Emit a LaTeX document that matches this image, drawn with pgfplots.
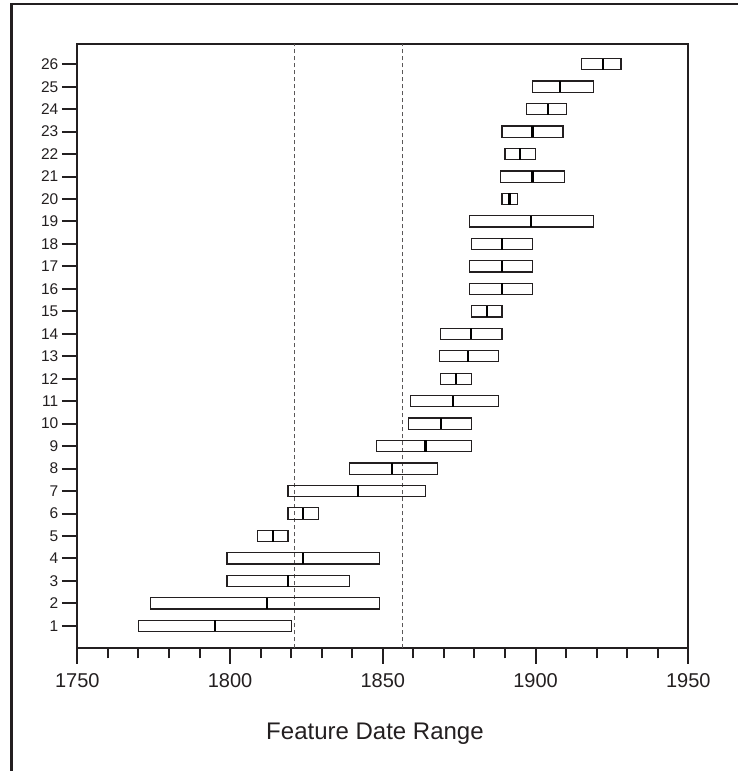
\documentclass[border=0pt]{standalone}
\usepackage{fontspec}
\setmainfont{Liberation Sans}
\usepackage{pgfplots}
\pgfplotsset{compat=1.18}
\usepgfplotslibrary{statistics}
\definecolor{ink}{RGB}{35,31,32}
\pgfplotsset{
  mybox/.style={draw=ink, line width=1.2pt, fill=none,
    boxplot/box extend=0.5, boxplot/whisker extend=0,
    boxplot/every median/.style={line width=2.2pt, draw=black},
    boxplot/every whisker/.style={draw=none}},
}
\newcommand{\rng}[4]{\addplot[mybox, boxplot prepared={draw position=#1, lower whisker=#2, lower quartile=#2, median=#3, upper quartile=#4, upper whisker=#4}] coordinates {};}
\begin{document}
\begin{tikzpicture}[x=1pt,y=1pt]
\useasboundingbox (0,0) rectangle (738,771);
\draw[line width=2.7pt, ink] (11.4,-2) -- (11.4,767) -- (742,767);
\begin{axis}[
  at={(77.3pt,122.7pt)}, anchor=south west, scale only axis,
  width=611pt, height=604.3pt,
  xmin=1750, xmax=1950, ymin=0, ymax=26.9,
  xtick={1750,1800,1850,1900,1950}, minor x tick num=4,
  ytick={1,...,26},
  tick align=outside, xtick pos=left, ytick pos=left,
  major tick length=15.5pt, minor tick length=10pt,
  axis line style={line width=2pt, ink},
  tick style={line width=2pt, ink},
  /pgf/number format/assume math mode=true,
  /pgf/number format/1000 sep={},
  xticklabel style={font=\fontsize{20}{24}\selectfont, text=ink, yshift=-6pt},
  yticklabel style={font=\fontsize{15.5}{18}\selectfont, text=ink},
  xlabel={Feature Date Range},
  xlabel style={font=\fontsize{24}{28}\selectfont, text=ink, anchor=base, at={(axis description cs:0.4872,-0.1506)}},
  clip=false,
]
\addplot[ink!75, line width=0.9pt, dash pattern=on 4pt off 3pt] coordinates {(1821,0) (1821,26.9)};
\addplot[ink!75, line width=0.9pt, dash pattern=on 4pt off 3pt] coordinates {(1856.3,0) (1856.3,26.9)};
\rng{1}{1770}{1795}{1820}
\rng{2}{1774}{1812}{1849}
\rng{3}{1799}{1819}{1839}
\rng{4}{1799}{1824}{1849}
\rng{5}{1809}{1814}{1819}
\rng{6}{1819}{1824}{1829}
\rng{7}{1819}{1842}{1864}
\rng{8}{1839}{1853}{1868}
\rng{9}{1848}{1864}{1879}
\rng{10}{1858.5}{1869}{1879}
\rng{11}{1859}{1873}{1888}
\rng{12}{1869}{1874}{1879}
\rng{13}{1868.5}{1878}{1888}
\rng{14}{1869}{1879}{1889}
\rng{15}{1879}{1884}{1889}
\rng{16}{1878.5}{1889}{1899}
\rng{17}{1878.5}{1889}{1899}
\rng{18}{1879}{1889}{1899}
\rng{19}{1878.5}{1898.5}{1919}
\rng{20}{1889}{1891.5}{1894}
\rng{21}{1888.5}{1899}{1909.5}
\rng{22}{1890}{1895}{1900}
\rng{23}{1889}{1899}{1909}
\rng{24}{1897}{1904}{1910}
\rng{25}{1899}{1908}{1919}
\rng{26}{1915}{1922}{1928}
\end{axis}
\end{tikzpicture}
\end{document}
